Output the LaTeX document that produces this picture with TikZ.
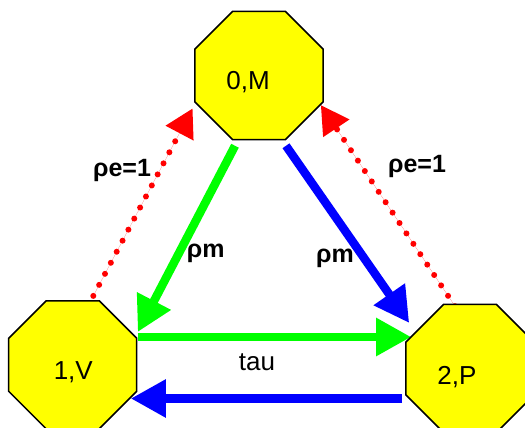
\documentclass[tikz,border=0pt]{standalone}
\usepackage{fontspec}
\setmainfont{Liberation Sans}
\usetikzlibrary{shapes.geometric,arrows.meta,backgrounds}
\tikzset{
  oct/.style={regular polygon,regular polygon sides=8,minimum size=138.6pt,inner sep=0pt,
    fill={rgb,255:red,255;green,255;blue,0},draw=black,line width=1.5pt},
  nodetxt/.style={font=\fontsize{26}{30}\selectfont,inner sep=0pt},
  lbl/.style={font=\bfseries\fontsize{25}{30}\selectfont,inner sep=0pt},
  tlbl/.style={font=\fontsize{26}{30}\selectfont,inner sep=0pt},
  thick arrow/.style={line width=8.5pt,-{Triangle[length=35pt,width=36pt]}},
  red dots/.style={draw={rgb,255:red,255;green,0;blue,0},line width=6pt,line cap=round,
    dash pattern=on 0pt off 12.5pt,-{Triangle[length=28pt,width=30pt,line cap=butt,line join=miter]}},
}
\definecolor{pgreen}{RGB}{0,255,0}
\definecolor{pblue}{RGB}{0,0,255}
\definecolor{pred}{RGB}{255,0,0}
\begin{document}
\begin{tikzpicture}[x=1pt,y=1pt]
\useasboundingbox (0,0) rectangle (525,428);
\node[oct,label={[nodetxt,xshift=-11pt,yshift=-7pt]center:0,M}] (M) at (259,352.5) {};
\node[oct,label={[nodetxt,xshift=0.6pt,yshift=-7pt]center:1,V}] (V) at (72.7,63.2) {};
\node[oct,label={[nodetxt,xshift=-13pt,yshift=-8.4pt]center:2,P}] (P) at (470,59.5) {};

\node[lbl] (le) at (122,257.5) {ρe=1};
\node[lbl] (re) at (417,262) {ρe=1};
\node[lbl] (lm) at (205.7,175) {ρm};
\node[lbl] (rm) at (335,170) {ρm};
\node[tlbl] (tau) at (257,65.3) {tau};

\begin{scope}[on background layer]
\draw[thick arrow,draw=pgreen,fill=pgreen] ([shift={(-24pt,-5.5pt)}]M.south) -- ([shift={(0.3pt,32.8pt)}]V.east);
\draw[thick arrow,draw=pblue,fill=pblue] ([shift={(27pt,-5.5pt)}]M.south) -- ([shift={(4pt,45.5pt)}]P.west);
\draw[thick arrow,draw=pgreen,fill=pgreen] ([shift={(0.3pt,27.8pt)}]V.east) -- ([shift={(6pt,31.5pt)}]P.west);
\draw[thick arrow,draw=pblue,fill=pblue] ([shift={(-3pt,-30pt)}]P.west) -- ([shift={(-6.7pt,-33.7pt)}]V.east);
\draw[red dots,fill=pred] ([shift={(20.6pt,4.1pt)}]V.north) -- ([shift={(-1.6pt,-32.9pt)}]M.west);
\draw[red dots,fill=pred] ([shift={(-15pt,-2.5pt)}]P.north) -- ([shift={(-3pt,-29.5pt)}]M.east);
\end{scope}
\end{tikzpicture}
\end{document}
